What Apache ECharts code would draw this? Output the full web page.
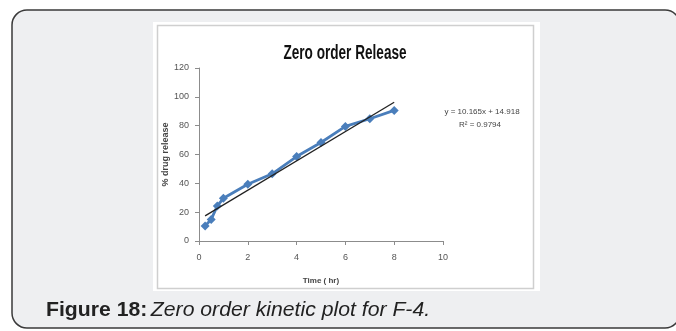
<!DOCTYPE html>
<html>
<head>
<meta charset="utf-8">
<script src="https://cdn.jsdelivr.net/npm/echarts@6/dist/echarts.min.js"></script>
<style>
  html, body { margin: 0; padding: 0; background: #fff; }
  #chart { width: 676px; height: 331px; }
</style>
</head>
<body>
<div id="chart"></div>
<script>
// data
var timeHr = [0.25, 0.5, 0.75, 1, 2, 3, 4, 5, 6, 7, 8];
var drugRelease = [10.4, 15, 24.3, 29.6, 39.4, 46.6, 58.6, 68.3, 79.5, 84.8, 90.6];
var trendX = [0.25, 8];
var trendY = [17.46, 96.24];
var xTicks = [0, 2, 4, 6, 8, 10];
var yTicks = [0, 20, 40, 60, 80, 100, 120];

var myChart = echarts.init(document.getElementById('chart'));

var option = {
    backgroundColor: '#fff',
    animation: false,
    graphic: [
        // card
        {
            type: 'rect', z: -10, silent: true,
            shape: { x: 12, y: 10, width: 668, height: 318, r: 15 },
            style: { fill: '#eeeff1', stroke: '#3a3a3a', lineWidth: 1.5 }
        },
        // picture
        {
            type: 'rect', z: -9, silent: true,
            shape: { x: 153, y: 22, width: 387, height: 269 },
            style: { fill: '#fff' }
        },
        {
            type: 'rect', z: -8, silent: true,
            shape: { x: 157.5, y: 25.5, width: 376, height: 263 },
            style: { fill: '#fff', stroke: '#cfcfcf', lineWidth: 1.5 }
        },
        // chart title (condensed look)
        {
            type: 'text', silent: true, x: 345, y: 53.5, scaleX: 0.68,
            style: {
                text: 'Zero order Release', align: 'center', verticalAlign: 'middle',
                fontFamily: 'Liberation Sans, Arial, sans-serif', fontSize: 20, fontWeight: 'bold', fill: '#111'
            }
        },
        // equation
        {
            type: 'text', silent: true, x: 482, y: 112,
            style: { text: 'y = 10.165x + 14.918', align: 'center', verticalAlign: 'middle', fontSize: 8, fontFamily: 'Liberation Sans, sans-serif', fill: '#444' }
        },
        {
            type: 'text', silent: true, x: 480, y: 125,
            style: { text: 'R² = 0.9794', align: 'center', verticalAlign: 'middle', fontSize: 8, fontFamily: 'Liberation Sans, sans-serif', fill: '#444' }
        },
        // caption
        {
            type: 'text', silent: true, x: 46, y: 310, scaleX: 1.06,
            style: {
                text: '{b|Figure 18:} {i|Zero order kinetic plot for F-4.}',
                verticalAlign: 'middle',
                rich: {
                    b: { fontFamily: 'Liberation Sans, Arial, sans-serif', fontSize: 20, fontWeight: 'bold', fill: '#222' },
                    i: { fontFamily: 'Liberation Sans, Arial, sans-serif', fontSize: 20, fontStyle: 'italic', fill: '#222' }
                }
            }
        }
    ],
    grid: { left: 199, right: 233, top: 68, bottom: 90 },
    xAxis: {
        type: 'value',
        min: xTicks[0],
        max: xTicks[xTicks.length - 1],
        interval: 2,
        name: 'Time ( hr)',
        nameLocation: 'middle',
        nameGap: 36,
        nameTextStyle: { fontSize: 8, fontWeight: 'bold', color: '#444', fontFamily: 'Liberation Sans, sans-serif' },
        splitLine: { show: false },
        axisLine: { lineStyle: { color: '#8c8c8c' } },
        axisTick: { length: 4, lineStyle: { color: '#8c8c8c' } },
        axisLabel: { fontSize: 9, color: '#555', margin: 12, fontFamily: 'Liberation Sans, sans-serif' }
    },
    yAxis: {
        type: 'value',
        min: yTicks[0],
        max: yTicks[yTicks.length - 1],
        interval: 20,
        name: '% drug release',
        nameLocation: 'middle',
        nameGap: 29,
        nameTextStyle: { fontSize: 9, fontWeight: 'bold', color: '#444', fontFamily: 'Liberation Sans, sans-serif' },
        splitLine: { show: false },
        axisLine: { show: true, lineStyle: { color: '#8c8c8c' } },
        axisTick: { show: true, length: 4, lineStyle: { color: '#8c8c8c' } },
        axisLabel: { fontSize: 9, color: '#555', margin: 10, fontFamily: 'Liberation Sans, sans-serif' }
    },
    series: [
        {
            name: 'release',
            type: 'line',
            data: timeHr.map(function (t, i) { return [t, drugRelease[i]]; }),
            symbol: 'diamond',
            symbolSize: 9,
            lineStyle: { color: '#4a7ebb', width: 2.8 },
            itemStyle: { color: '#4a7ebb' },
            z: 3
        },
        {
            name: 'trend',
            type: 'line',
            data: trendX.map(function (t, i) { return [t, trendY[i]]; }),
            symbol: 'none',
            lineStyle: { color: '#222', width: 1.3 },
            z: 4
        }
    ]
};

myChart.setOption(option);
</script>
</body>
</html>
